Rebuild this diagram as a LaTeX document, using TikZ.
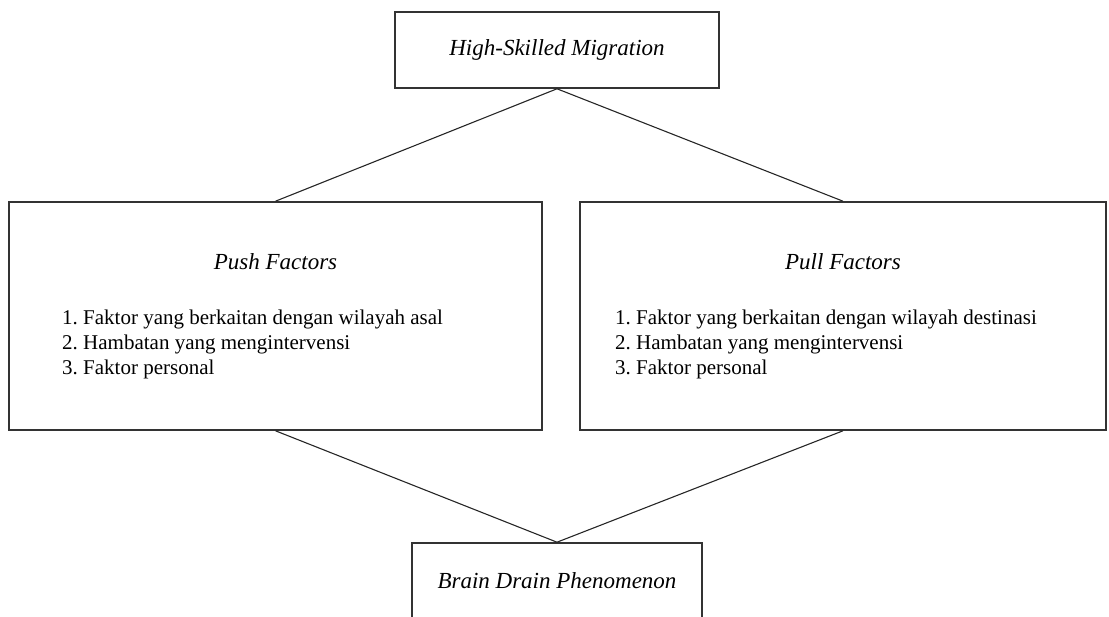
\documentclass[tikz,border=0pt]{standalone}
\usepackage{fontspec}
\setmainfont{Liberation Serif}
\usepackage{tikz}
\frenchspacing

\tikzset{
  box/.style={draw=black!80, line width=1.6pt, inner sep=0pt},
  link/.style={draw=black!85, line width=1.1pt},
  heading/.style={font=\fontsize{23}{27}\selectfont\itshape},
  itemlist/.style={font=\fontsize{21}{25}\selectfont, align=left, anchor=west, inner sep=0pt},
}

\begin{document}
\begin{tikzpicture}[x=1pt,y=-1pt]
    \clip (0,0) rectangle (1109,617);
    \node[box,minimum width=324pt,minimum height=76pt,heading] (high) at (557,50) {High-Skilled Migration};
    \node[box,minimum width=533pt,minimum height=228pt] (push) at (275.5,316) {};
    \node[box,minimum width=526pt,minimum height=228pt] (pull) at (843,316) {};
    \node[box,minimum width=290pt,minimum height=76pt,heading] (brain) at (557,581) {Brain Drain Phenomenon};
    % isi kotak
    \node[heading] (pushtitle) at (275.5,262) {Push Factors};
    \node[itemlist] (pushlist) at (62,344) {1. Faktor yang berkaitan dengan wilayah asal\\2. Hambatan yang mengintervensi\\3. Faktor personal};
    \node[heading] (pulltitle) at (843,262) {Pull Factors};
    \node[itemlist] (pulllist) at (615,344) {1. Faktor yang berkaitan dengan wilayah destinasi\\2. Hambatan yang mengintervensi\\3. Faktor personal};
    \draw[link] (high.south) to (push.north);
    \draw[link] (high.south) to (pull.north);
    \draw[link] (push.south) to (brain.north);
    \draw[link] (pull.south) to (brain.north);
\end{tikzpicture}
\end{document}
